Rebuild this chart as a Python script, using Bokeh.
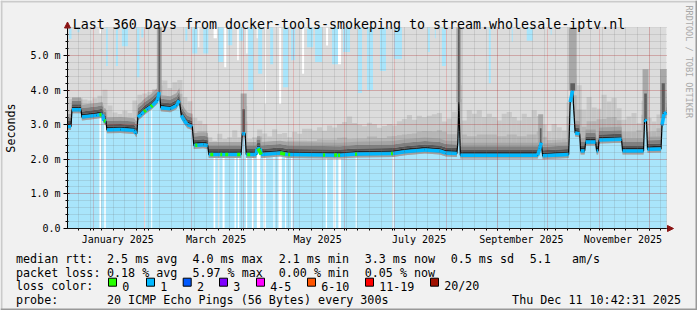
import numpy as np
from datetime import datetime
from bokeh.plotting import figure
from bokeh.models import (Range1d, LinearAxis, FixedTicker, Grid, Label, Arrow,
                          NormalHead, BoxAnnotation)
from bokeh.embed import file_html
from bokeh.resources import INLINE

# ---------------------------------------------------------------- texts
TITLE = "Last 360 Days from docker-tools-smokeping to stream.wholesale-iptv.nl"
Y_LABEL = "Seconds"
WATERMARK = "RRDTOOL / TOBI OETIKER"
END_STAMP = "Thu Dec 11 10:42:31 2025"
PROBE = "20 ICMP Echo Pings (56 Bytes) every 300s"

# ---------------------------------------------------------------- time axis (days since start)
START = datetime(2024, 12, 16, 10, 42, 31)
SPAN_DAYS = 360
Y_MAX_MS = 5.81
MONTH_LABELS = ["January 2025", "March 2025", "May 2025", "July 2025",
                "September 2025", "November 2025"]
LABEL_DAYS = [30.2, 89.3, 150.3, 211.3, 272.8, 333.8]
Y_TICKS = [0, 1, 2, 3, 4, 5]
Y_TICK_LABELS = ["0.0", "1.0 m", "2.0 m", "3.0 m", "4.0 m", "5.0 m"]

# ---------------------------------------------------------------- median rtt (ms) polyline
MED_DAY = [0.0, 2.1, 2.7, 8.1, 8.7, 17.4, 21.0, 21.9, 23.1, 23.7, 31.8, 40.2, 41.1, 41.7,
           42.3, 44.4, 46.2, 48.0, 50.4, 54.0, 55.2, 56.1, 61.8, 65.4, 67.2, 68.4, 70.2,
           72.0, 75.0, 75.9, 81.6, 84.3, 84.9, 104.4, 105.0, 106.8, 107.4, 113.4, 114.0,
           115.8, 116.4, 127.8, 132.6, 163.8, 173.4, 195.6, 202.8, 214.8, 223.8, 227.4,
           234.0, 234.6, 235.2, 236.1, 282.6, 283.8, 284.7, 285.6, 301.2, 302.1, 303.6,
           305.1, 307.8, 308.4, 310.8, 311.4, 317.4, 318.0, 318.9, 319.5, 333.0, 333.6,
           346.2, 346.8, 348.0, 348.6, 356.7, 357.3, 358.5, 360.0]
MED_MS = [2.95, 2.95, 3.43, 3.43, 3.22, 3.27, 3.30, 3.12, 3.10, 2.85, 2.86, 2.83, 2.75, 2.75,
          3.22, 3.30, 3.39, 3.45, 3.53, 3.70, 3.94, 3.49, 3.46, 3.55, 3.70, 3.27, 3.12,
          3.00, 2.95, 2.40, 2.42, 2.40, 2.14, 2.14, 2.74, 2.74, 2.14, 2.14, 2.31,
          2.31, 2.14, 2.18, 2.14, 2.12, 2.15, 2.17, 2.22, 2.27, 2.24, 2.18,
          2.17, 2.49, 3.65, 2.12, 2.12, 2.30, 2.48, 2.10, 2.14, 3.65, 3.99,
          2.76, 2.74, 2.24, 2.24, 2.50, 2.50, 2.24, 2.24, 2.56, 2.58, 2.24,
          2.24, 3.14, 3.10, 2.29, 2.30, 2.98, 3.31, 3.35]

# periods where the median carried loss colour "0" (green)
GREEN_D0 = [19.2, 21.9, 45.9, 50.1, 76.8, 85.8, 91.8, 94.8, 102.0, 108.0, 114.6, 127.8,
            132.6, 153.6, 160.2, 162.6, 172.8, 194.4]
GREEN_D1 = [20.4, 22.8, 47.1, 51.0, 78.0, 87.6, 93.0, 96.6, 103.8, 109.8, 116.4, 130.8,
            133.8, 154.8, 162.0, 163.8, 174.0, 195.6]

# smoke spread above the median (ms): outer band per 3 days, inner band per 6 days
SMOKE_OUTER = [0.8, 0.35, 0.35, 0.5, 0.45, 0.5, 0.55, 0.9, 0.7, 0.5, 0.45, 0.55, 0.5, 0.9,
               0.6, 0.5, 0.45, 0.4, 0.5, 0.8, 0.6, 0.7, 0.7, 0.7, 0.7, 0.8, 0.7, 0.6,
               0.5, 0.4, 0.6, 0.45, 0.5, 0.7, 0.5, 0.8, 0.45, 0.5, 0.55, 0.6, 0.5, 0.7,
               0.55, 0.6, 0.5, 0.65, 0.6, 0.75, 0.75, 0.7, 0.8, 0.7, 0.85, 0.8, 0.9, 0.95,
               1.1, 0.9, 0.85, 0.8, 0.9, 0.85, 0.75, 0.8, 0.85, 0.8, 0.9, 0.95, 1.05, 0.9,
               1.0, 0.95, 1.0, 1.05, 1.1, 0.9, 1.0, 1.2, 1.0, 1.0, 1.3, 1.2, 1.3, 1.1,
               1.2, 1.1, 1.0, 1.2, 1.25, 1.1, 1.0, 1.2, 1.1, 1.3, 1.0, 0.9, 0.7, 0.9,
               0.8, 0.7, 1.0, 1.2, 1.4, 1.2, 1.3, 1.0, 0.9, 1.3, 1.1, 1.2, 0.9, 0.9,
               1.0, 1.1, 0.8, 1.0, 0.9, 0.8, 1.0, 1.3]
SMOKE_INNER = [0.25, 0.3, 0.3, 0.3, 0.35, 0.35, 0.3, 0.3, 0.35, 0.35, 0.3, 0.3,
               0.35, 0.4, 0.3, 0.3, 0.3, 0.35, 0.3, 0.35, 0.35, 0.35, 0.4, 0.4,
               0.4, 0.45, 0.45, 0.5, 0.45, 0.45, 0.5, 0.45, 0.5, 0.5, 0.5, 0.55,
               0.55, 0.6, 0.55, 0.6, 0.55, 0.6, 0.6, 0.55, 0.6, 0.55, 0.6, 0.55,
               0.45, 0.45, 0.6, 0.7, 0.6, 0.6, 0.65, 0.55, 0.55, 0.6, 0.5, 0.6]

# periods without loss background (white columns)
WHITE_D0 = [19.2, 22.1, 46.1, 50.3, 87.8, 90.4, 93.2, 100.4, 102.4, 107.2, 110.8, 113.8,
            117.8, 123.8, 126.8, 130.8, 134.4, 155.2, 159.8, 162.8, 173.2, 195.2]
WHITE_D1 = [20.2, 23.0, 46.7, 50.9, 88.8, 91.2, 94.4, 101.2, 103.2, 108.0, 112.0, 115.8,
            119.2, 124.4, 128.8, 131.4, 135.2, 156.0, 161.2, 164.4, 173.8, 196.0]

# periods whose slowest ping stayed below the top of the graph (ms)
TOPB_D0 = [0.9, 6.0, 23.2, 29.1, 32.7, 41.8, 44.4, 70.8, 75.0, 81.6, 90.6, 96.6, 103.2,
           108.6, 114.6, 121.8, 129.6, 134.4, 144.0, 148.8, 159.0, 165.6, 174.6, 180.0,
           187.8, 196.2, 216.6, 220.8, 225.0, 253.2, 267.0, 276.0, 290.4]
TOPB_D1 = [2.4, 7.2, 24.2, 30.3, 36.3, 43.2, 45.6, 72.0, 78.0, 84.6, 93.6, 99.0, 105.6,
           111.6, 117.0, 123.6, 132.6, 136.8, 147.6, 153.0, 162.6, 169.8, 177.0, 183.6,
           191.4, 201.0, 217.8, 221.4, 227.4, 254.4, 267.6, 279.6, 291.0]
TOPB_LOW = [5.48, 5.67, 4.7, 4.7, 5.27, 4.37, 5.52, 5.43, 5.06, 5.06, 4.81, 5.3, 5.43,
            3.99, 4.47, 4.75, 4.08, 4.86, 5.24, 4.81, 4.75, 5.1, 3.92, 4.0,
            4.55, 4.9, 5.1, 5.5, 4.7, 4.2, 5.4, 5.43, 5.6]
TOPW_D0 = [19.2, 78.6, 87.8, 94.2, 102.0, 107.4, 113.7, 118.5, 127.2, 141.0, 155.4, 162.6]
TOPW_D1 = [20.2, 79.2, 89.8, 95.4, 102.9, 108.2, 114.3, 119.1, 128.4, 142.2, 156.6, 164.4]
TOPW_LOW = [5.64, 5.24, 5.5, 4.66, 4.86, 5.06, 5.5, 3.60, 3.60, 4.47, 5.29, 4.75]

# short latency spikes (dark smoke top / pale smoke top, ms)
SPIKE_D0 = [54.3, 104.7, 234.3, 283.5, 301.8, 346.2, 356.7]
SPIKE_D1 = [56.1, 107.1, 236.1, 285.3, 305.4, 348.6, 359.4]
SPIKE_DARK = [5.9, 3.45, 5.9, 2.9, 4.2, 3.9, 4.2]
SPIKE_PALE = [5.9, 3.9, 5.9, 3.3, 5.9, 4.6, 4.6]

# legend statistics
RTT_STATS = [("avg", 2.5), ("max", 4.0), ("min", 2.1), ("now", 3.3)]
RTT_SD = 0.5
RTT_AMS = 5.1
LOSS_STATS = [("avg", 0.18), ("max", 5.97), ("min", 0.00), ("now", 0.05)]
LOSS_LABELS = ["0", "1", "2", "3", "4-5", "6-10", "11-19", "20/20"]
LOSS_COLORS = ["#26ff00", "#00b8ff", "#0059ff", "#7e00ff", "#ff00ff", "#ff5500",
               "#ff0000", "#a01000"]

# ---------------------------------------------------------------- layout
W, H = 697, 310
FL, FR, FT, FB = 67, 666, 27, 228          # data region inside the canvas
FONT = "DejaVu Sans Mono"
BG = "#F1F1F1"
BLUE_BG = "#A9E5FB"
PXD = SPAN_DAYS / (FR - FL)
PXM = Y_MAX_MS / (FB - FT)


def SX(x):
    return x


def SY(y):
    return H - y


def days(dt):
    return (dt - START).total_seconds() / 86400.0


MONTH_STARTS = [days(datetime(2025, m, 1)) for m in range(1, 13)]
first_monday = days(datetime(2024, 12, 23))
MONDAYS = [first_monday + 7 * k for k in range(60) if first_monday + 7 * k < SPAN_DAYS]
Y_MINOR = [round(0.2 * k, 1) for k in range(30) if 0.2 * k <= Y_MAX_MS]

p = figure(width=W, height=H,
           x_range=Range1d(-FL * PXD, SPAN_DAYS + (W - FR) * PXD),
           y_range=Range1d(-(H - FB) * PXM, Y_MAX_MS + FT * PXM),
           output_backend="svg", toolbar_location=None, tools="",
           x_axis_type=None, y_axis_type=None, min_border=0,
           background_fill_color=BG, border_fill_color=BG, outline_line_color=None)

md = np.array(MED_DAY)
med = np.array(MED_MS)


def m_at(d):
    return np.interp(d, md, med)


TOPV = Y_MAX_MS

p.quad(left=0, right=SPAN_DAYS, bottom=0, top=TOPV, fill_color="white", line_color=None)
# lightest smoke up to the top
p.varea(x=md, y1=med, y2=np.full_like(med, TOPV), fill_color="#DCDCDC")
# outer smoke
c3 = 1.5 + 3.0 * np.arange(len(SMOKE_OUTER))
outer_top = m_at(c3) + np.array(SMOKE_OUTER)
p.quad(left=np.maximum(c3 - 1.53, 0), right=np.minimum(c3 + 1.53, SPAN_DAYS), bottom=0,
       top=outer_top, fill_color="#C8C8C8", line_color=None)
inner_top = np.minimum(m_at(c3) + np.repeat(np.array(SMOKE_INNER), 2), outer_top - 0.05)
p.quad(left=np.maximum(c3 - 1.53, 0), right=np.minimum(c3 + 1.53, SPAN_DAYS), bottom=0,
       top=inner_top, fill_color="#B6B6B6", line_color=None)

# loss background below the median
p.varea(x=md, y1=np.zeros_like(med), y2=med - 0.10, fill_color=BLUE_BG)
wd0 = np.array(WHITE_D0)
wd1 = np.array(WHITE_D1)
p.quad(left=wd0, right=wd1, bottom=0, top=m_at((wd0 + wd1) / 2) - 0.10,
       fill_color="white", line_color=None)

# smoke bands hugging the median
bands = [(-0.10, -0.04, "#A0A0A0"), (-0.04, 0.04, "#6A6A6A"), (0.04, 0.09, "#262626"),
         (0.09, 0.16, "#555555"), (0.16, 0.26, "#808080"), (0.26, 0.36, "#A4A4A4")]
for lo, hi, col in bands:
    p.varea(x=md, y1=med + lo, y2=np.minimum(med + hi, TOPV), fill_color=col)

# spikes
sd0 = np.array(SPIKE_D0)
sd1 = np.array(SPIKE_D1)
sbase = m_at((sd0 + sd1) / 2)
p.quad(left=sd0 - 0.6, right=np.minimum(sd1 + 0.6, SPAN_DAYS), bottom=sbase,
       top=np.minimum(np.array(SPIKE_PALE), TOPV), fill_color="#A8A8A8", line_color=None)
p.quad(left=sd0 + 0.4, right=sd1 - 0.4, bottom=sbase,
       top=np.minimum(np.array(SPIKE_DARK), TOPV), fill_color="#5E5E5E", line_color=None)

# background showing above the smoke
p.quad(left=TOPB_D0, right=TOPB_D1, bottom=TOPB_LOW, top=TOPV, fill_color=BLUE_BG,
       line_color=None)
p.quad(left=TOPW_D0, right=TOPW_D1, bottom=TOPW_LOW, top=TOPV, fill_color="white",
       line_color=None)

# median line
p.line(md, med, line_color="black", line_width=1.2)
dx = np.diff(md)
dv = np.abs(np.diff(med))
flat = np.where(dv / dx < 0.3)[0]
p.segment(x0=md[flat], y0=med[flat], x1=md[flat + 1], y1=med[flat + 1],
          line_color=LOSS_COLORS[1], line_width=3.5, line_cap="butt")
g0 = np.array(GREEN_D0)
g1 = np.array(GREEN_D1)
p.segment(x0=g0, y0=m_at(g0), x1=g1, y1=m_at(g1), line_color=LOSS_COLORS[0],
          line_width=3.5, line_cap="butt")

# grids on top of the graph
for dim, tk, mtk, bnd, cb in [(0, MONTH_STARTS, MONDAYS, (0, SPAN_DAYS), (0, Y_MAX_MS)),
                              (1, Y_TICKS[1:], Y_MINOR, (0, Y_MAX_MS), (0, SPAN_DAYS))]:
    p.add_layout(Grid(dimension=dim, ticker=FixedTicker(ticks=tk, minor_ticks=mtk),
                      bounds=bnd, cross_bounds=cb, level="overlay",
                      grid_line_color="#E00000", grid_line_alpha=0.35, grid_line_dash="1 1",
                      minor_grid_line_color="#707070", minor_grid_line_alpha=0.35,
                      minor_grid_line_dash="1 1"))

# axes drawn at the data origin
xax = LinearAxis(fixed_location=0, bounds=(0, SPAN_DAYS),
                 ticker=FixedTicker(ticks=LABEL_DAYS, minor_ticks=MONDAYS + MONTH_STARTS),
                 major_label_overrides={d: t for d, t in zip(LABEL_DAYS, MONTH_LABELS)},
                 major_tick_line_color=None, major_tick_out=0, major_tick_in=0,
                 minor_tick_out=2, minor_tick_in=0, minor_tick_line_color="black",
                 axis_line_color="black", major_label_standoff=3,
                 major_label_text_font=FONT, major_label_text_font_size="10px",
                 major_label_text_color="black")
p.add_layout(xax, "below")
yax = LinearAxis(fixed_location=0, bounds=(0, Y_MAX_MS),
                 ticker=FixedTicker(ticks=Y_TICKS, minor_ticks=Y_MINOR),
                 major_label_overrides={t: s for t, s in zip(Y_TICKS, Y_TICK_LABELS)},
                 major_tick_out=4, major_tick_in=2, minor_tick_out=2, minor_tick_in=1,
                 major_tick_line_color="black", minor_tick_line_color="black",
                 axis_line_color="black", major_label_standoff=3,
                 major_label_text_font=FONT, major_label_text_font_size="10px",
                 major_label_text_color="black")
p.add_layout(yax, "left")

ARROW = "#8B1414"
p.add_layout(Arrow(end=NormalHead(size=6, fill_color=ARROW, line_color=ARROW),
                   x_start=SPAN_DAYS, y_start=0, x_end=SPAN_DAYS + 7 * PXD, y_end=0,
                   line_color="black", line_width=1))
p.add_layout(Arrow(end=NormalHead(size=6, fill_color=ARROW, line_color=ARROW),
                   x_start=0, y_start=Y_MAX_MS, x_end=0, y_end=Y_MAX_MS + 5.5 * PXM,
                   line_color="black", line_width=1))


def lab(text, x, y, size="11.7px", align="left", baseline="alphabetic", angle=0.0,
        color="black"):
    p.add_layout(Label(x=SX(x), y=SY(y), x_units="screen", y_units="screen", text=text,
                       text_font=FONT, text_font_size=size, text_color=color,
                       text_align=align, text_baseline=baseline, angle=angle))


lab(TITLE, 348.5, 24, size="13.3px", align="center")
lab(Y_LABEL, 10, 127.5, align="center", baseline="middle", angle=np.pi / 2)
lab(WATERMARK, 688.5, 5, size="8.5px", baseline="middle", angle=-np.pi / 2,
    color="#A8A8A8")

COLS = [106.5, 191.9, 278.2, 364.2]
lab("median rtt:", 15.5, 258.3)
for (name, v), x in zip(RTT_STATS, COLS):
    lab(f"{v:.1f} ms {name}", x, 258.3)
lab(f"{RTT_SD:.1f} ms sd", 450.2, 258.3)
lab(f"{RTT_AMS:.1f}", 529.2, 258.3)
lab("am/s", 571.5, 258.3)

lab("packet loss:", 15.5, 272.0)
for (name, v), x in zip(LOSS_STATS, COLS):
    lab(f"{v:.2f} % {name}", x, 272.0)

lab("loss color:", 15.5, 285.8)
BOX_X = [108, 146, 182.7, 219, 256, 307, 365, 430]
for bx, txt, col in zip(BOX_X, LOSS_LABELS, LOSS_COLORS):
    p.add_layout(BoxAnnotation(left=SX(bx), right=SX(bx + 8), top=SY(277.7),
                               bottom=SY(285.7), left_units="screen", right_units="screen",
                               top_units="screen", bottom_units="screen",
                               fill_color=col, fill_alpha=1.0, line_color="black",
                               line_alpha=1.0, line_width=1))
    lab(txt, bx + 13.7, 285.8)

lab("probe:", 15.5, 299.8)
lab(PROBE, 106.5, 299.8)
lab(END_STAMP, 680.5, 299.8, align="right")

# image frame shading
for l, r, t, b, c in [(0, W, 0, 2, "#CBCBCB"), (0, 2, 0, H, "#CBCBCB"),
                      (0, W, H - 2, H, "#999999"), (W - 2, W, 0, H, "#999999")]:
    p.add_layout(BoxAnnotation(left=SX(l), right=SX(r), top=SY(t), bottom=SY(b),
                               left_units="screen", right_units="screen",
                               top_units="screen", bottom_units="screen",
                               fill_color=c, fill_alpha=1.0, line_alpha=0))

open("out.html", "w").write(file_html(p, INLINE))
